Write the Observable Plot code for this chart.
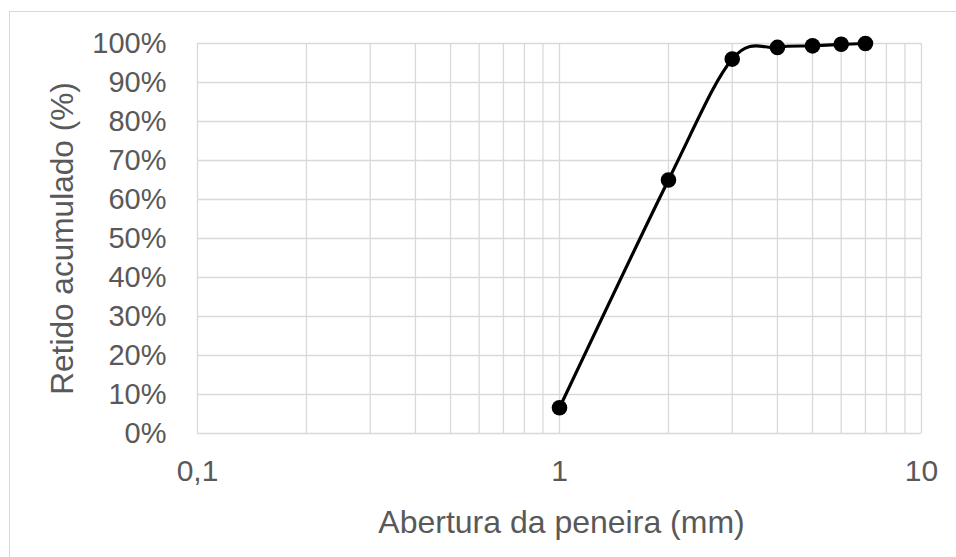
<!DOCTYPE html>
<html>
<head>
<meta charset="utf-8">
<script src="https://cdn.jsdelivr.net/npm/d3@7"></script>
<script src="https://cdn.jsdelivr.net/npm/@observablehq/plot@0.6"></script>
<style>
  html, body { margin: 0; padding: 0; background: #fff; overflow: hidden; }
  #wrap { position: relative; width: 956px; height: 557px; overflow: hidden; }
  #border { position: absolute; left: 9px; top: 11px; width: 2000px; height: 2000px;
            border: 1.5px solid #d9d9d9; box-sizing: border-box; pointer-events: none; }
  #chart { position: absolute; left: 0; top: 0; }
</style>
</head>
<body>
<div id="wrap">
  <div id="chart"></div>
  <div id="border"></div>
</div>
<script>
// Sieve opening (mm) and cumulative retained (%)
const aberturas = [1, 2, 3, 4, 5, 6, 7];
const retido = [6.6, 65, 96, 99, 99.4, 99.8, 100];

// Axis ticks
const xTicks = [0.1, 1, 10];
const xTickLabels = ["0,1", "1", "10"];
const xGrid = [0.1, 0.2, 0.3, 0.4, 0.5, 0.6, 0.7, 0.8, 0.9, 1, 2, 3, 4, 5, 6, 7, 8, 9, 10];
const yTicks = [0, 10, 20, 30, 40, 50, 60, 70, 80, 90, 100];

const xTitle = "Abertura da peneira (mm)";
const yTitle = "Retido acumulado (%)";

const data = aberturas.map((a, i) => ({ abertura: a, retido: retido[i] }));

const gray = "#595959";
const gridColor = "#d9d9d9";

const chart = Plot.plot({
  width: 956,
  height: 557,
  marginLeft: 197,
  marginRight: 35,
  marginTop: 43,
  marginBottom: 124,
  style: { fontFamily: "'Liberation Sans', Arial, sans-serif", color: gray, background: "transparent" },
  x: { type: "log", domain: [0.1, 10], axis: null },
  y: { domain: [0, 100], axis: null },
  marks: [
    Plot.ruleX(xGrid, { stroke: gridColor, strokeWidth: 1.3 }),
    Plot.ruleY(yTicks, { stroke: gridColor, strokeWidth: 1.3 }),
    Plot.axisX({
      ticks: xTicks,
      tickFormat: (d) => xTickLabels[xTicks.indexOf(d)],
      tickSize: 0,
      tickPadding: 26,
      fontSize: 30,
      label: null,
      fill: gray
    }),
    Plot.axisY({
      ticks: yTicks,
      tickFormat: (d) => d + "%",
      tickSize: 0,
      tickPadding: 31,
      fontSize: 29,
      label: null,
      fill: gray
    }),
    Plot.text([xTitle], {
      frameAnchor: "bottom",
      text: (d) => d,
      dx: 2,
      dy: 89,
      lineAnchor: "middle",
      fontSize: 32,
      fill: gray
    }),
    Plot.text([yTitle], {
      frameAnchor: "left",
      text: (d) => d,
      rotate: -90,
      dx: -135,
      textAnchor: "middle",
      lineAnchor: "middle",
      fontSize: 31.6,
      fill: gray
    }),
    Plot.line(data, {
      x: "abertura",
      y: "retido",
      curve: "cardinal",
      tension: 0,
      stroke: "#000",
      strokeWidth: 3.2
    }),
    Plot.dot(data, {
      x: "abertura",
      y: "retido",
      r: 7.8,
      fill: "#000",
      stroke: "none"
    })
  ]
});

document.getElementById("chart").appendChild(chart);
</script>
</body>
</html>
